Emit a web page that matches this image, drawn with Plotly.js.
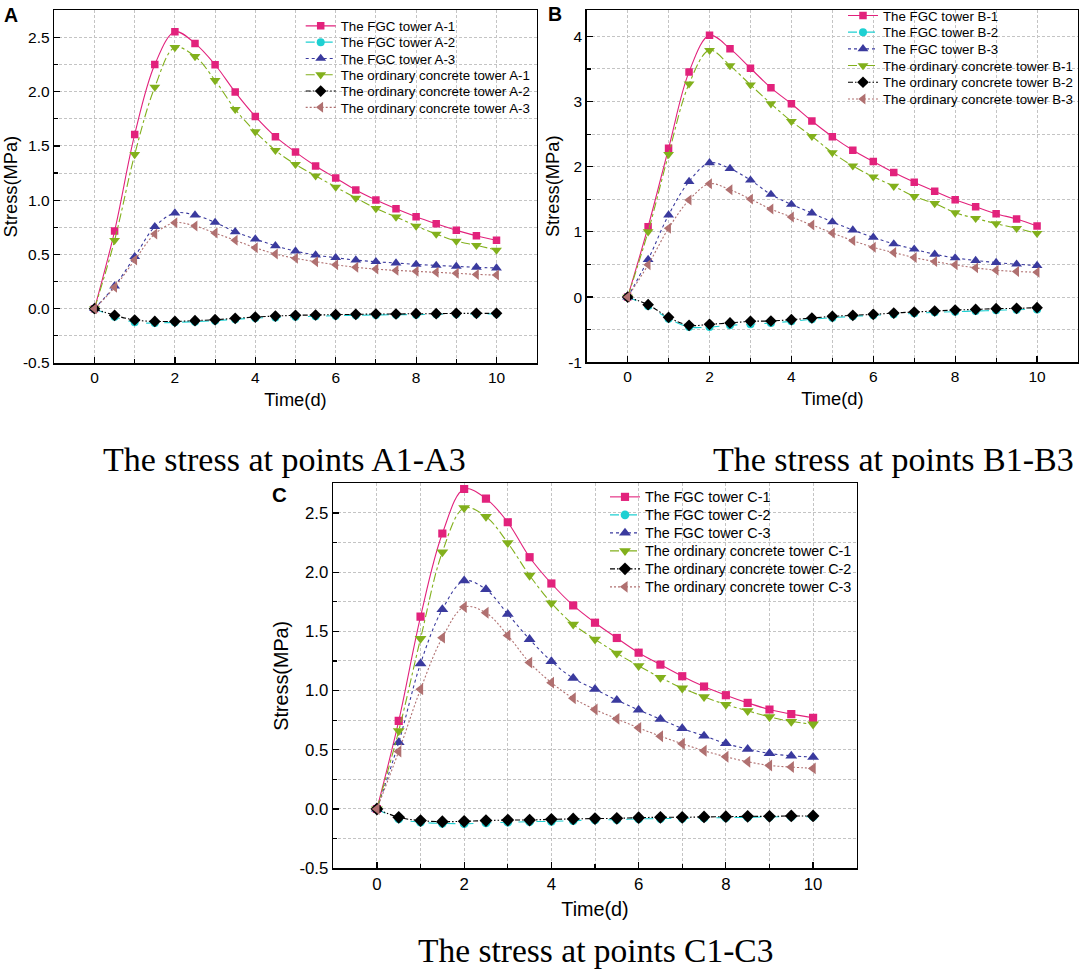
<!DOCTYPE html>
<html>
<head>
<meta charset="utf-8">
<script src="https://cdn.plot.ly/plotly-3.0.1.min.js"></script>
<style>html,body{margin:0;padding:0;background:#fff;}#chart{width:1079px;height:972px;}</style>
</head>
<body>
<div id="chart"></div>
<script>
// ---------- data ----------
const timeDays = [0,0.5,1,1.5,2,2.5,3,3.5,4,4.5,5,5.5,6,6.5,7,7.5,8,8.5,9,9.5,10];

const fgcA1 = [0,0.716,1.606,2.25,2.552,2.445,2.248,1.996,1.772,1.585,1.443,1.315,1.204,1.093,1.001,0.921,0.848,0.783,0.722,0.673,0.63];
const fgcA2 = [0,-0.074,-0.126,-0.132,-0.126,-0.12,-0.11,-0.098,-0.086,-0.08,-0.074,-0.07,-0.064,-0.061,-0.058,-0.055,-0.055,-0.052,-0.049,-0.049,-0.046];
const fgcA3 = [0,0.209,0.479,0.756,0.881,0.863,0.795,0.709,0.642,0.58,0.531,0.494,0.47,0.448,0.433,0.421,0.408,0.399,0.39,0.381,0.375];
const ordA1 = [0,0.63,1.422,2.042,2.408,2.325,2.104,1.837,1.631,1.459,1.33,1.225,1.121,1.02,0.924,0.845,0.762,0.688,0.623,0.584,0.54];
const ordA2 = [0,-0.061,-0.104,-0.117,-0.117,-0.11,-0.101,-0.089,-0.077,-0.068,-0.061,-0.058,-0.055,-0.052,-0.049,-0.049,-0.046,-0.046,-0.043,-0.043,-0.043];
const ordA3 = [0,0.197,0.448,0.688,0.792,0.762,0.697,0.63,0.562,0.504,0.464,0.433,0.405,0.381,0.365,0.353,0.344,0.335,0.326,0.316,0.31];

const fgcB1 = [0,1.08,2.283,3.455,4.015,3.811,3.511,3.21,2.966,2.701,2.461,2.252,2.079,1.911,1.763,1.625,1.493,1.386,1.279,1.197,1.09];
const fgcB2 = [0,-0.138,-0.331,-0.459,-0.459,-0.433,-0.418,-0.397,-0.372,-0.341,-0.316,-0.296,-0.28,-0.265,-0.25,-0.234,-0.224,-0.214,-0.204,-0.194,-0.189];
const fgcB3 = [0,0.576,1.259,1.773,2.059,1.972,1.794,1.575,1.422,1.289,1.152,1.029,0.917,0.815,0.734,0.657,0.601,0.561,0.53,0.504,0.484];
const ordB1 = [0,1.004,2.191,3.271,3.786,3.552,3.256,2.966,2.696,2.466,2.217,2.013,1.845,1.702,1.544,1.437,1.294,1.208,1.126,1.055,0.978];
const ordB2 = [0,-0.117,-0.311,-0.433,-0.418,-0.397,-0.372,-0.367,-0.347,-0.321,-0.296,-0.28,-0.265,-0.245,-0.229,-0.214,-0.199,-0.189,-0.178,-0.173,-0.163];
const ordB3 = [0,0.494,1.055,1.488,1.738,1.646,1.503,1.35,1.228,1.106,0.983,0.866,0.764,0.683,0.606,0.545,0.494,0.448,0.413,0.392,0.382];

const fgcC1 = [0,0.744,1.624,2.326,2.702,2.621,2.421,2.126,1.904,1.719,1.573,1.444,1.32,1.219,1.121,1.034,0.961,0.896,0.84,0.801,0.77];
const fgcC2 = [0,-0.084,-0.112,-0.121,-0.124,-0.118,-0.112,-0.107,-0.104,-0.098,-0.093,-0.09,-0.084,-0.081,-0.079,-0.076,-0.073,-0.07,-0.067,-0.065,-0.065];
const fgcC3 = [0,0.562,1.228,1.685,1.927,1.854,1.646,1.433,1.247,1.104,1.011,0.919,0.837,0.758,0.68,0.618,0.553,0.506,0.469,0.449,0.438];
const ordC1 = [0,0.66,1.438,2.169,2.542,2.469,2.247,1.972,1.739,1.559,1.433,1.315,1.208,1.11,1.02,0.947,0.882,0.829,0.778,0.739,0.716];
const ordC2 = [0,-0.07,-0.098,-0.107,-0.104,-0.098,-0.093,-0.093,-0.087,-0.084,-0.081,-0.079,-0.073,-0.07,-0.07,-0.067,-0.065,-0.062,-0.062,-0.059,-0.059];
const ordC3 = [0,0.486,1.011,1.447,1.705,1.657,1.466,1.236,1.067,0.935,0.84,0.761,0.685,0.615,0.551,0.492,0.441,0.399,0.368,0.354,0.343];

const seriesNamesA = ['The FGC tower A-1','The FGC tower A-2','The FGC tower A-3','The ordinary concrete tower A-1','The ordinary concrete tower A-2','The ordinary concrete tower A-3'];
const seriesNamesB = ['The FGC tower B-1','The FGC tower B-2','The FGC tower B-3','The ordinary concrete tower B-1','The ordinary concrete tower B-2','The ordinary concrete tower B-3'];
const seriesNamesC = ['The FGC tower C-1','The FGC tower C-2','The FGC tower C-3','The ordinary concrete tower C-1','The ordinary concrete tower C-2','The ordinary concrete tower C-3'];

const xTickVals = [0,2,4,6,8,10];
const yTickValsA = [-0.5,0,0.5,1,1.5,2,2.5];
const yTickTextA = ['-0.5','0.0','0.5','1.0','1.5','2.0','2.5'];
const yTickValsB = [-1,0,1,2,3,4];
const yTickTextB = ['-1','0','1','2','3','4'];

const captions = ['The stress at points A1-A3','The stress at points B1-B3','The stress at points C1-C3'];
const panelLetters = ['A','B','C'];

// ---------- styles ----------
const styles = [
  {color:'#E2227C', dash:'solid', symbol:'square', size:7.5},
  {color:'#1ED0D2', dash:'dash', symbol:'circle', size:8},
  {color:'#3A3A9E', dash:'dot', symbol:'triangle-up', size:9.5},
  {color:'#82B01C', dash:'dashdot', symbol:'triangle-down', size:9.5},
  {color:'#000000', dash:'5px,2px,1.5px,2px,1.5px,2px', symbol:'diamond', size:9},
  {color:'#B07070', dash:'2px,2px', symbol:'triangle-left', size:9.5}
];

const W = 1079, H = 972;
const px = v => v / W;
const py = v => 1 - v / H;

const traces = [];
function addPanel(seriesList, names, xa, ya, legendId, scale) {
  seriesList.forEach((ys, i) => {
    const s = styles[i];
    traces.push({
      type: 'scatter', mode: 'lines+markers',
      x: timeDays, y: ys, name: names[i],
      xaxis: xa, yaxis: ya, legend: legendId,
      line: {color: s.color, width: 1.1, dash: s.dash, shape: 'spline', smoothing: 1},
      marker: {symbol: s.symbol, size: s.size * scale, color: s.color, line: {width: 0}}
    });
  });
}
addPanel([fgcA1,fgcA2,fgcA3,ordA1,ordA2,ordA3], seriesNamesA, 'x', 'y', 'legend', 1);
addPanel([fgcB1,fgcB2,fgcB3,ordB1,ordB2,ordB3], seriesNamesB, 'x2', 'y2', 'legend2', 1);
addPanel([fgcC1,fgcC2,fgcC3,ordC1,ordC2,ordC3], seriesNamesC, 'x3', 'y3', 'legend3', 1.09);

const sans = 'Liberation Sans, Arial, sans-serif';
const gridColor = '#c4c4c4';

function xAxis(domain, anchor, fs) {
  return {
    domain: domain, anchor: anchor, range: [-1, 11],
    tickmode: 'array', tickvals: xTickVals, ticktext: xTickVals.map(String),
    ticks: 'inside', ticklen: 6, tickwidth: 1.2, tickcolor: '#000',
    showline: true, linecolor: '#000', linewidth: 1.6, mirror: true,
    showgrid: true, gridcolor: gridColor, gridwidth: 1, griddash: '3px,2px',
    zeroline: false,
    minor: {dtick: 1, tick0: 0, ticks: 'inside', ticklen: 4, tickwidth: 1.2, tickcolor: '#000', showgrid: true, gridcolor: gridColor, gridwidth: 1, griddash: '3px,2px'},
    tickfont: {family: sans, size: fs.tick, color: '#000'},
    title: {text: 'Time(d)', font: {family: sans, size: fs.title, color: '#000'}, standoff: fs.xstand}
  };
}
function yAxis(domain, anchor, range, vals, texts, minorStep, fs) {
  return {
    domain: domain, anchor: anchor, range: range,
    tickmode: 'array', tickvals: vals, ticktext: texts,
    ticks: 'inside', ticklen: 6, tickwidth: 1.2, tickcolor: '#000',
    showline: true, linecolor: '#000', linewidth: 1.6, mirror: true,
    showgrid: true, gridcolor: gridColor, gridwidth: 1, griddash: '3px,2px',
    zeroline: false,
    minor: {dtick: minorStep, tick0: 0, ticks: 'inside', ticklen: 4, tickwidth: 1.2, tickcolor: '#000', showgrid: true, gridcolor: gridColor, gridwidth: 1, griddash: '3px,2px'},
    tickfont: {family: sans, size: fs.tick, color: '#000'},
    title: {text: 'Stress(MPa)', font: {family: sans, size: fs.title, color: '#000'}, standoff: fs.ystand}
  };
}

const fsAB = {tick: 15.5, title: 18.3, xstand: 8, ystand: 4};
const fsC = {tick: 16.8, title: 19.8, xstand: 9, ystand: 5};

function legendAt(xLeft, yTop, size) {
  return {
    x: px(xLeft), y: py(yTop), xanchor: 'left', yanchor: 'top',
    bgcolor: 'rgba(0,0,0,0)', borderwidth: 0, itemwidth: 30,
    font: {family: sans, size: size, color: '#000'}, tracegroupgap: 0
  };
}

const annotations = [];
function ann(text, x, y, size, family, bold) {
  annotations.push({text: bold ? '<b>' + text + '</b>' : text, x: px(x), y: py(y), xref: 'paper', yref: 'paper',
    xanchor: 'center', yanchor: 'middle', showarrow: false, font: {family: family, size: size, color: '#000'}});
}
const serif = 'Liberation Serif, Times New Roman, serif';
ann(captions[0], 284, 458, 34, serif, false);
ann(captions[1], 893, 458, 34, serif, false);
ann(captions[2], 595, 950, 33.5, serif, false);
ann(panelLetters[0], 11, 13, 19.5, sans, true);
ann(panelLetters[1], 555, 12, 19.5, sans, true);
ann(panelLetters[2], 279, 494, 20.5, sans, true);

const layout = {
  width: W, height: H,
  margin: {l: 0, r: 0, t: 0, b: 0},
  paper_bgcolor: '#fff', plot_bgcolor: '#fff',
  showlegend: true,
  xaxis: xAxis([px(54.3), px(536.7)], 'y', fsAB),
  yaxis: yAxis([py(361.7), py(8.3)], 'x', [-0.5, 2.75], yTickValsA, yTickTextA, 0.25, fsAB),
  xaxis2: xAxis([px(586.7), px(1078)], 'y2', fsAB),
  yaxis2: yAxis([py(361), py(8.3)], 'x2', [-1, 4.4], yTickValsB, yTickTextB, 0.5, fsAB),
  xaxis3: xAxis([px(333.3), px(856.7)], 'y3', fsC),
  yaxis3: yAxis([py(868), py(482.3)], 'x3', [-0.5, 2.75], yTickValsA, yTickTextA, 0.25, fsC),
  legend: legendAt(300.7, 8.7, 13.3),
  legend2: legendAt(843, -1.7, 13.3),
  legend3: legendAt(605, 480, 14.4),
  annotations: annotations
};

// spacing between legend rows in the reference (px)
const legendRowGap = {legend: 16.3, legend2: 16.7, legend3: 18};

Plotly.newPlot('chart', traces, layout, {staticPlot: true, displayModeBar: false}).then(() => {
  Object.keys(legendRowGap).forEach(id => {
    const items = document.querySelectorAll('g.' + id + ' g.traces');
    if (!items.length) return;
    const re = /translate\(\s*([-\d.e]+)[ ,]+([-\d.e]+)\s*\)/;
    const m0 = re.exec(items[0].getAttribute('transform') || '');
    if (!m0) return;
    const y0 = parseFloat(m0[2]);
    items.forEach((el, i) => {
      const m = re.exec(el.getAttribute('transform') || '');
      if (!m) return;
      el.setAttribute('transform', 'translate(' + m[1] + ',' + (y0 + i * legendRowGap[id]) + ')');
    });
  });
});
</script>
</body>
</html>
